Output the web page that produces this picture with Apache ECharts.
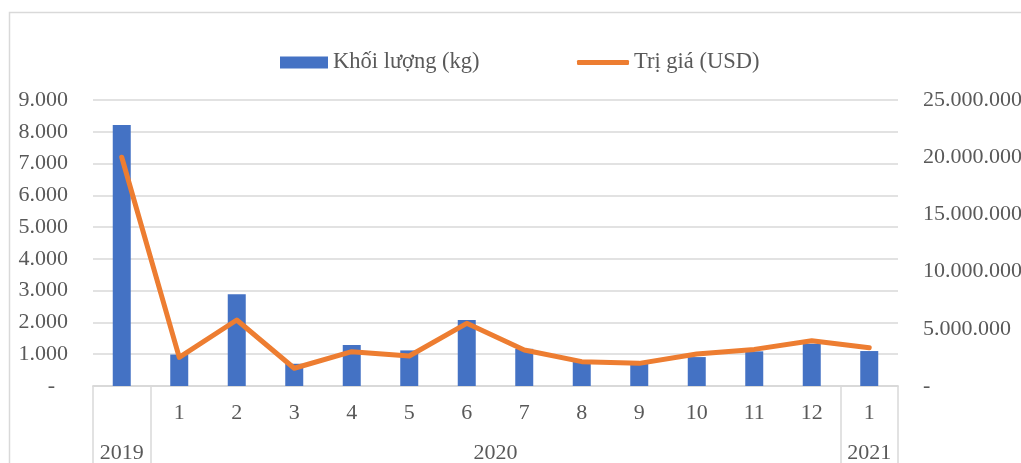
<!DOCTYPE html>
<html>
<head>
<meta charset="utf-8">
<script src="https://cdn.jsdelivr.net/npm/echarts@6/dist/echarts.min.js"></script>
<style>
html,body{margin:0;padding:0;background:#fff;}
#chart{width:1021px;height:463px;}
</style>
</head>
<body>
<div id="chart"></div>
<script>
// ---- data ----
const categories = ['2019', '2020-1', '2020-2', '2020-3', '2020-4', '2020-5', '2020-6', '2020-7', '2020-8', '2020-9', '2020-10', '2020-11', '2020-12', '2021-1'];
const monthLabels = ['', '1', '2', '3', '4', '5', '6', '7', '8', '9', '10', '11', '12', '1'];
const yearGroups = [
  { label: '2019', from: 0, to: 1 },
  { label: '2020', from: 1, to: 13 },
  { label: '2021', from: 13, to: 14 }
];
const volumeKg = [8210, 990, 2890, 700, 1290, 1120, 2080, 1170, 760, 700, 910, 1090, 1330, 1100];
const valueUsd = [20000000, 2500000, 5770000, 1550000, 3000000, 2620000, 5480000, 3150000, 2130000, 1980000, 2800000, 3200000, 3960000, 3350000];
const leftTicks = { min: 0, max: 9000, interval: 1000 };
const rightTicks = { min: 0, max: 25000000, interval: 5000000 };
const seriesNames = ['Khối lượng (kg)', 'Trị giá (USD)'];

// ---- helpers ----
function fmtDots(v) {
  if (v === 0) return '{z|-}';
  return String(Math.round(v)).replace(/\B(?=(\d{3})+(?!\d))/g, '.');
}
function fmtDotsR(v) {
  if (v === 0) return '-';
  return String(Math.round(v)).replace(/\B(?=(\d{3})+(?!\d))/g, '.');
}
// year row: half-band slots (boundaryGap false), 2 slots per category
const nSlots = categories.length * 2 + 1;
const yearSlots = [];
for (let i = 0; i < nSlots; i++) yearSlots.push('s' + i);
const yearSlotLabel = {};
const yearBoundaries = new Set();
yearGroups.forEach(g => {
  yearSlotLabel[g.from + g.to] = g.label;
  yearBoundaries.add(g.from * 2);
  yearBoundaries.add(g.to * 2);
});

const FONT = '"Liberation Serif", "Times New Roman", serif';
const TXT = '#595959';
const GRID = '#d9d9d9';
const FS = 22;

const chart = echarts.init(document.getElementById('chart'), null, { renderer: 'canvas' });
chart.setOption({
  animation: false,
  backgroundColor: '#fff',
  textStyle: { fontFamily: FONT },
  graphic: [{
    type: 'rect', left: 7, top: 10, silent: true,
    shape: { width: 1100, height: 600 },
    style: { fill: 'none', stroke: GRID, lineWidth: 1.5 }
  }],
  legend: [{
    left: 275, top: 46,
    data: [{ name: seriesNames[0], icon: 'rect' }],
    itemWidth: 48, itemHeight: 12,
    textStyle: { fontFamily: FONT, fontSize: 22.5, color: TXT }
  }, {
    left: 572, top: 46,
    data: [{ name: seriesNames[1], icon: 'roundRect', itemStyle: { color: '#ED7D31' } }],
    itemWidth: 52, itemHeight: 5,
    textStyle: { fontFamily: FONT, fontSize: 22.5, color: TXT }
  }],
  grid: { left: 93, right: 123, top: 100, bottom: 77, containLabel: false, outerBoundsMode: 'none' },
  xAxis: [{
    type: 'category',
    data: categories,
    position: 'bottom',
    boundaryGap: true,
    axisLine: { show: true, lineStyle: { color: GRID, width: 1.5 } },
    axisTick: { show: false },
    axisLabel: {
      interval: 0, margin: 16,
      fontFamily: FONT, fontSize: FS, color: TXT,
      formatter: (v, i) => monthLabels[i]
    },
    splitLine: { show: false }
  }, {
    type: 'category',
    data: yearSlots,
    position: 'bottom',
    boundaryGap: false,
    axisLine: { show: true, lineStyle: { color: GRID, width: 1.5 } },
    axisTick: {
      show: true, length: 80,
      interval: (i) => yearBoundaries.has(i),
      lineStyle: { color: GRID, width: 1.5 }
    },
    axisLabel: {
      interval: 0, margin: 56,
      fontFamily: FONT, fontSize: FS, color: TXT,
      formatter: (v, i) => yearSlotLabel[i] || ''
    },
    splitLine: { show: false }
  }],
  yAxis: [{
    type: 'value',
    min: leftTicks.min, max: leftTicks.max, interval: leftTicks.interval,
    axisLine: { show: false },
    axisTick: { show: false },
    axisLabel: {
      margin: 25, fontFamily: FONT, fontSize: FS, color: TXT,
      formatter: fmtDots,
      rich: { z: { fontFamily: FONT, fontSize: FS, color: TXT, padding: [0, 13, 0, 0] } }
    },
    splitLine: { show: true, lineStyle: { color: GRID, width: 1.5 } }
  }, {
    type: 'value',
    position: 'right',
    min: rightTicks.min, max: rightTicks.max, interval: rightTicks.interval,
    axisLine: { show: false },
    axisTick: { show: false },
    axisLabel: {
      margin: 25, fontFamily: FONT, fontSize: FS, color: TXT,
      formatter: fmtDotsR
    },
    splitLine: { show: false }
  }],
  series: [{
    name: seriesNames[0],
    type: 'bar',
    xAxisIndex: 0, yAxisIndex: 0,
    data: volumeKg,
    barWidth: 18,
    itemStyle: { color: '#4472C4' }
  }, {
    name: seriesNames[1],
    type: 'line',
    xAxisIndex: 0, yAxisIndex: 1,
    data: valueUsd,
    symbol: 'none',
    lineStyle: { color: '#ED7D31', width: 5, cap: 'round', join: 'round' },
    itemStyle: { color: '#ED7D31' }
  }]
});
</script>
</body>
</html>
